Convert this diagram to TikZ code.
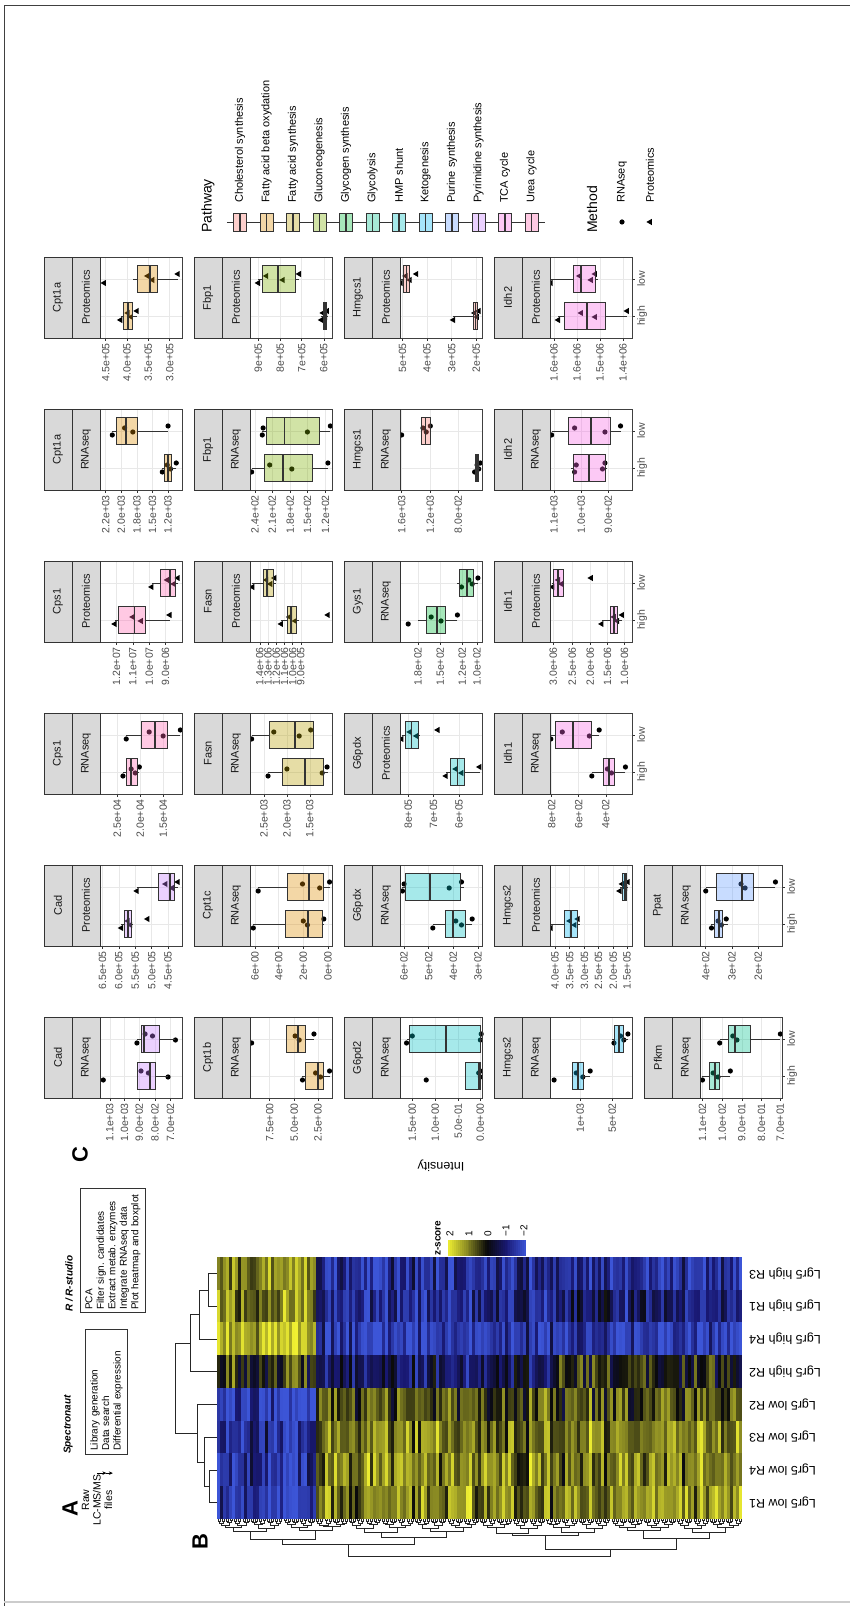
\documentclass[tikz,border=0pt]{standalone}
\usepackage{fontspec}
\setmainfont{Liberation Sans}
\usetikzlibrary{arrows.meta}
\usetikzlibrary{positioning}
\frenchspacing

% pathway colours (ggplot hues)
\definecolor{pw1}{HTML}{F8766D}
\definecolor{pw2}{HTML}{DE8C00}
\definecolor{pw3}{HTML}{B79F00}
\definecolor{pw4}{HTML}{7CAE00}
\definecolor{pw5}{HTML}{00BA38}
\definecolor{pw6}{HTML}{00C08B}
\definecolor{pw7}{HTML}{00BFC4}
\definecolor{pw8}{HTML}{00B4F0}
\definecolor{pw9}{HTML}{619CFF}
\definecolor{pw10}{HTML}{C77CFF}
\definecolor{pw11}{HTML}{F564E3}
\definecolor{pw12}{HTML}{FF64B0}

\tikzset{
  plab/.style={font=\fontsize{22}{22}\selectfont\bfseries, inner sep=0pt},
  flowtxt/.style={font=\fontsize{10.5}{11.5}\selectfont, inner sep=1pt},
  flowbox/.style={draw=black!80, line width=0.6pt, align=left, anchor=north west,
    font=\fontsize{10}{11.5}\selectfont, inner xsep=4pt, inner ysep=5pt},
  flowtitle/.style={font=\fontsize{10}{11}\selectfont\bfseries\itshape, anchor=south west, inner sep=1pt},
  flowarr/.style={-{Stealth[length=4pt,width=3.5pt]}, line width=0.6pt},
  hmlab/.style={font=\fontsize{12.5}{13}\selectfont, inner sep=1pt},
  dendro/.style={line width=0.35pt, black!85},
  gridmaj/.style={black!9, line width=0.5pt},
  axtick/.style={black!80, line width=0.5pt},
  ticklab/.style={font=\fontsize{10.5}{11}\selectfont, text=black!70, inner sep=0.5pt},
  stripbox/.style={draw=black!80, fill=black!15, line width=0.5pt, minimum width=81pt,
    minimum height=28pt, inner sep=0pt, font=\fontsize{11}{12}\selectfont, text=black!90},
  panelbd/.style={draw=black!75, line width=0.6pt},
  boxln/.style={draw=black!80, line width=0.7pt},
  legtitle/.style={font=\fontsize{14}{15}\selectfont, inner sep=0pt},
  legtext/.style={font=\fontsize{11}{12}\selectfont, inner sep=0pt}
}

% z-score colour scale
\newcommand\setzcolor[1]{%
  \pgfmathtruncatemacro\hr{(#1)<-1 ? 60-35*((#1)+2) : ((#1)<0 ? 25-15*((#1)+1) : ((#1)<1 ? 10+125*(#1) : 135+105*((#1)-1)))}%
  \pgfmathtruncatemacro\hg{(#1)<-1 ? 85-60*((#1)+2) : ((#1)<0 ? 25-15*((#1)+1) : ((#1)<1 ? 10+125*(#1) : 135+105*((#1)-1)))}%
  \pgfmathtruncatemacro\hb{(#1)<-1 ? 215-100*((#1)+2) : ((#1)<0 ? 115-105*((#1)+1) : ((#1)<1 ? 10+25*(#1) : 35+15*((#1)-1)))}%
  \definecolor{zc}{RGB}{\hr,\hg,\hb}}

\newcommand\mkdot[2]{\fill[black] (#1,#2) circle[radius=2.6pt];}
\newcommand\mktri[2]{\fill[black] (#1,{#2+3.6}) -- ({#1-3.1},{#2-1.8}) -- ({#1+3.1},{#2-1.8}) -- cycle;}

% one facet: row, col, gene, method, colour, ticks
\newcommand\facetbegin[6]{%
  \pgfmathsetmacro\fu{508+152*(#2-1)}%
  \pgfmathsetmacro\fv{182+150*(#1-1)}%
  \begin{scope}[shift={(\fu,-\fv)}]
  \def\fcol{#5}\def\fgene{#3}\def\fmeth{#4}\def\fid{#1#2}%
  \foreach \ff/\tl [count=\kk] in {#6}{%
    \draw[gridmaj] (0,82*\ff) -- (81,82*\ff);
    \draw[axtick] (-2.75,82*\ff) -- (0,82*\ff);
    \node[ticklab, anchor=east] (tk\fid-\kk) at (-4.5,82*\ff) {\tl};
  }%
  \draw[gridmaj] (22,0) -- (22,82) (59,0) -- (59,82);
}
\newcommand\facetend{%
  \draw[panelbd] (0,0) rectangle (81,82);
  \node[stripbox] (m\fid) at (40.5,96) {\fmeth};
  \node[stripbox] (g\fid) at (40.5,124) {\fgene};
  \end{scope}}
\newcommand\xlabs{%
  \draw[axtick] (22,0) -- (22,-2.75) (59,0) -- (59,-2.75);
  \node[ticklab, anchor=north] (xh\fid) at (22,-4.5) {high};
  \node[ticklab, anchor=north] (xl\fid) at (59,-4.5) {low};
}
% box: x, lower whisker, q1, median, q3, upper whisker, points, mark
\newcommand\boxgrp[8]{%
  \foreach \pp [count=\ii] in {#7}{%
    \pgfmathsetmacro\jx{{-4,3,-1,5,0,2}[\ii-1]}%
    \pgfmathsetmacro\px{#1+(\jx)}%
    \pgfmathsetmacro\py{82*\pp}%
    #8{\px}{\py}%
  }%
  \draw[boxln] (#1,82*#2) -- (#1,82*#3) (#1,82*#5) -- (#1,82*#6);
  \filldraw[boxln, fill=\fcol, fill opacity=.35] ({#1-13.8},82*#3) rectangle ({#1+13.8},82*#5);
  \draw[boxln, line width=1.8pt] ({#1-13.8},82*#4) -- ({#1+13.8},82*#4);
}

\begin{document}
\begin{tikzpicture}[x=1pt, y=1pt, rotate=90, transform shape]
\useasboundingbox (0,0) rectangle (1606,-850);
\draw[black!75, line width=0.8pt] (0,-4) -- (1601,-4) -- (1601,-851);
\draw[black!20, line width=2pt] (4,-4) -- (4,-851);

% ---- panel A ----
\node[plab] (labA) at (97,-70) {A};
\node[flowtxt, align=center] (raw) at (106,-97) {Raw\\LC-MS/MS\\files};
\node[flowbox, text width=117pt] (spec) at (151,-85) {Library generation\\Data search\\Differential expression};
\node[flowtitle] (spect) at (151,-74) {Spectronaut};
\node[flowbox, text width=118pt, inner xsep=3pt] (rstu) at (293,-80) {PCA\\Filter sign. candidates\\Extract metab. enzymes\\Integrate RNAseq data\\Plot heatmap and boxplot};
\node[flowtitle] (rstut) at (293,-74) {R / R-studio};
\draw[flowarr] (raw.east) -- (raw.east |- spec.west);
\draw[flowarr] (raw.east |- spec.east) -- (raw.east |- rstu.west);

% ---- panel B ----
\node[plab] (labB) at (64,-200) {B};
\pgfmathsetseed{2718}
\foreach \gi in {0,...,174}{
  \pgfmathsetmacro\va{217+3*\gi}
  \pgfmathsetmacro\gef{0.55*rand}
  \foreach \si/\za/\zb/\zc in {0/-1.6/0.95/1.05, 1/-1.5/1.0/0.9, 2/-1.4/0.95/0.95, 3/-1.7/0.55/0.5,
      4/0.3/-0.8/0.1, 5/1.6/-1.6/-1.6, 6/1.0/-1.3/-0.9, 7/1.1/-1.3/-1.4}{
    \pgfmathsetmacro\zz{(\gi<33 ? \za : (\gi<113 ? \zb : \zc)) + (\si<4 ? 1 : -1)*(\gef) + 0.6*rand}
    \pgfmathsetmacro\zz{max(-2,min(2,\zz))}
    \setzcolor{\zz}
    \fill[zc] ({87+32.75*\si},-\va) rectangle ({87.1+32.75*(\si+1)},{-\va-3.1});
  }
}
% sample dendrogram
\draw[dendro] (103.4,-217) -- (103.4,-209) -- (136.1,-209) -- (136.1,-217);
\draw[dendro] (119.75,-209) -- (119.75,-204) -- (168.9,-204) -- (168.9,-217);
\draw[dendro] (144.3,-204) -- (144.3,-197) -- (201.6,-197) -- (201.6,-217);
\draw[dendro] (299.9,-217) -- (299.9,-208) -- (332.6,-208) -- (332.6,-217);
\draw[dendro] (267.1,-217) -- (267.1,-199) -- (316.25,-199) -- (316.25,-208);
\draw[dendro] (234.4,-217) -- (234.4,-190) -- (291.7,-190) -- (291.7,-199);
\draw[dendro] (173,-197) -- (173,-175) -- (263,-175) -- (263,-190);
% gene dendrogram
\def\HH{{0,1.5,3,5,7.5,11,16,24,37,37}}
\foreach \kk in {1,...,8}{
  \pgfmathtruncatemacro\nn{2^(8-\kk)-1}
  \pgfmathtruncatemacro\km{\kk-1}
  \pgfmathtruncatemacro\kp{\kk+1}
  \foreach \jj in {0,...,\nn}{
    \pgfmathsetmacro\ca{217+2.05*2^\km*(2*\jj+0.5)}
    \pgfmathsetmacro\cb{217+2.05*2^\km*(2*\jj+1.5)}
    \pgfmathsetmacro\hN{\HH[\kk]+(\kk<8)*(\HH[\kp]-\HH[\kk])*0.6*mod(37*\jj+53*\kk,23)/23}
    \pgfmathsetmacro\hA{\HH[\km]+(\km>0)*(\HH[\kk]-\HH[\km])*0.6*mod(74*\jj+53*\km,23)/23}
    \pgfmathsetmacro\hB{\HH[\km]+(\km>0)*(\HH[\kk]-\HH[\km])*0.6*mod(74*\jj+37+53*\km,23)/23}
    \draw[dendro, line width=0.25pt] ({87-\hA},-\ca) -- ({87-\hN},-\ca) -- ({87-\hN},-\cb) -- ({87-\hB},-\cb);
  }
}
\foreach \tl [count=\ii] in {Lgr5 low R1, Lgr5 low R4, Lgr5 low R3, Lgr5 low R2,
    Lgr5 high R2, Lgr5 high R4, Lgr5 high R1, Lgr5 high R3}{
  \node[hmlab, rotate=90, anchor=east] (hl\ii) at ({87+32.75*(\ii-0.5)},-748) {\tl};
}
% colour key
\node[font=\fontsize{10}{11}\selectfont\bfseries, anchor=west, inner sep=0pt] (zt) at (350,-438) {z-score};
\foreach \ii in {0,...,39}{
  \pgfmathsetmacro\zz{2-4*(\ii+0.5)/40}
  \setzcolor{\zz}
  \fill[zc] (350,{-448-1.95*\ii}) rectangle (366,{-448-1.95*(\ii+1)-0.1});
}
\foreach \zl/\zv [count=\ii] in {2/450, 1/469, 0/488, −1/506, −2/524}{
  \node[font=\fontsize{10}{11}\selectfont, anchor=west, inner sep=0pt] (zl\ii) at (369,-\zv) {\zl};
}

% ---- panel C ----
\node[plab] (labC) at (451,-80) {C};
\node[font=\fontsize{12.5}{13}\selectfont, rotate=90] (ylab) at (440,-441) {Intensity};

\facetbegin{1}{1}{Cad}{RNAseq}{pw10}{0.88/1.1e+03, 0.70/1.0e+03, 0.52/9.0e+02, 0.33/8.0e+02, 0.14/7.0e+02}
\boxgrp{22}{0.17}{0.33}{0.39}{0.55}{0.55}{0.96,0.41,0.17,0.50}{\mkdot}
\boxgrp{59}{0.08}{0.28}{0.46}{0.50}{0.55}{0.55,0.36,0.08,0.45}{\mkdot}
\facetend
\facetbegin{1}{2}{Cad}{Proteomics}{pw10}{0.97/6.5e+05, 0.77/6.0e+05, 0.57/5.5e+05, 0.37/5.0e+05, 0.17/4.5e+05}
\boxgrp{22}{0.60}{0.62}{0.66}{0.70}{0.74}{0.74,0.66,0.63,0.42}{\mktri}
\boxgrp{59}{0.05}{0.09}{0.15}{0.29}{0.55}{0.55,0.20,0.12,0.05}{\mktri}
\facetend
\facetbegin{1}{3}{Cps1}{RNAseq}{pw12}{0.79/2.5e+04, 0.51/2.0e+04, 0.23/1.5e+04}
\boxgrp{22}{0.52}{0.55}{0.62}{0.68}{0.72}{0.72,0.62,0.57,0.52}{\mkdot}
\boxgrp{59}{0.02}{0.18}{0.33}{0.49}{0.68}{0.68,0.40,0.23,0.02}{\mkdot}
\facetend
\facetbegin{1}{4}{Cps1}{Proteomics}{pw12}{0.80/1.2e+07, 0.60/1.1e+07, 0.40/1.0e+07, 0.20/9.0e+06}
\boxgrp{22}{0.15}{0.45}{0.58}{0.78}{0.82}{0.82,0.60,0.50,0.15}{\mktri}
\boxgrp{59}{0.05}{0.08}{0.15}{0.26}{0.37}{0.37,0.18,0.10,0.05}{\mktri}
\facetend
\facetbegin{1}{5}{Cpt1a}{RNAseq}{pw2}{0.93/2.2e+03, 0.74/2.0e+03, 0.55/1.8e+03, 0.36/1.5e+03, 0.17/1.2e+03}
\boxgrp{22}{0.07}{0.13}{0.17}{0.22}{0.24}{0.24,0.18,0.14,0.07}{\mkdot}
\boxgrp{59}{0.17}{0.55}{0.68}{0.80}{0.85}{0.85,0.70,0.60,0.17}{\mkdot}
\facetend
\facetbegin{1}{6}{Cpt1a}{Proteomics}{pw2}{0.93/4.5e+05, 0.67/4.0e+05, 0.41/3.5e+05, 0.15/3.0e+05}
\boxgrp{22}{0.55}{0.60}{0.66}{0.72}{0.75}{0.75,0.66,0.62,0.55}{\mktri}
\boxgrp{59}{0.05}{0.30}{0.39}{0.54}{0.60}{0.95,0.42,0.36,0.05}{\mktri}
\facetend

\facetbegin{2}{1}{Cpt1b}{RNAseq}{pw2}{0.76/7.5e+00, 0.46/5.0e+00, 0.17/2.5e+00}
\boxgrp{22}{0.03}{0.10}{0.17}{0.32}{0.36}{0.36,0.20,0.14,0.03}{\mkdot}
\boxgrp{59}{0.22}{0.32}{0.41}{0.56}{0.56}{0.98,0.45,0.40,0.22}{\mkdot}
\facetend
\facetbegin{2}{2}{Cpt1c}{RNAseq}{pw2}{0.94/6e+00, 0.65/4e+00, 0.35/2e+00, 0.05/0e+00}
\boxgrp{22}{0.10}{0.12}{0.29}{0.57}{0.96}{0.96,0.35,0.30,0.10}{\mkdot}
\boxgrp{59}{0.03}{0.10}{0.28}{0.55}{0.90}{0.90,0.36,0.15,0.03}{\mkdot}
\facetend
\facetbegin{2}{3}{Fasn}{RNAseq}{pw3}{0.83/2.5e+03, 0.55/2.0e+03, 0.27/1.5e+03}
\boxgrp{22}{0.05}{0.10}{0.33}{0.61}{0.78}{0.78,0.55,0.12,0.06}{\mkdot}
\boxgrp{59}{0.23}{0.23}{0.45}{0.76}{0.98}{0.98,0.71,0.40,0.26}{\mkdot}
\facetend
\facetbegin{2}{4}{Fasn}{Proteomics}{pw3}{0.88/1.4e+06, 0.78/1.3e+06, 0.68/1.2e+06, 0.58/1.1e+06, 0.48/1.0e+06, 0.38/9.0e+05}
\boxgrp{22}{0.40}{0.44}{0.50}{0.55}{0.62}{0.62,0.52,0.45,0.05}{\mktri}
\boxgrp{59}{0.68}{0.72}{0.79}{0.84}{0.97}{0.97,0.80,0.75,0.70}{\mktri}
\facetend
\facetbegin{2}{5}{Fbp1}{RNAseq}{pw4}{0.94/2.4e+02, 0.73/2.1e+02, 0.51/1.8e+02, 0.30/1.5e+02, 0.08/1.2e+02}
\boxgrp{22}{0.05}{0.24}{0.60}{0.82}{0.98}{0.98,0.76,0.49,0.05}{\mkdot}
\boxgrp{59}{0.02}{0.16}{0.58}{0.80}{0.85}{0.85,0.84,0.30,0.02}{\mkdot}
\facetend
\facetbegin{2}{6}{Fbp1}{Proteomics}{pw4}{0.90/9e+05, 0.63/8e+05, 0.37/7e+05, 0.10/6e+05}
\boxgrp{22}{0.05}{0.07}{0.09}{0.11}{0.13}{0.13,0.11,0.08,0.06}{\mktri}
\boxgrp{59}{0.40}{0.45}{0.66}{0.85}{0.90}{0.90,0.80,0.60,0.40}{\mktri}
\facetend

\facetbegin{3}{1}{G6pd2}{RNAseq}{pw7}{0.85/1.5e+00, 0.57/1.0e+00, 0.29/5.0e-01, 0.02/0.0e+00}
\boxgrp{22}{0.02}{0.02}{0.04}{0.20}{0.20}{0.68,0.04,0.02,0.02}{\mkdot}
\boxgrp{59}{0.00}{0.02}{0.44}{0.88}{0.92}{0.92,0.85,0.02,0.01}{\mkdot}
\facetend
\facetbegin{3}{2}{G6pdx}{RNAseq}{pw7}{0.95/6e+02, 0.65/5e+02, 0.35/4e+02, 0.05/3e+02}
\boxgrp{22}{0.12}{0.20}{0.35}{0.45}{0.60}{0.60,0.32,0.25,0.12}{\mkdot}
\boxgrp{59}{0.22}{0.27}{0.63}{0.93}{0.97}{0.97,0.95,0.40,0.25}{\mkdot}
\facetend
\facetbegin{3}{3}{G6pdx}{Proteomics}{pw7}{0.90/8e+05, 0.59/7e+05, 0.28/6e+05}
\boxgrp{22}{0.03}{0.22}{0.30}{0.38}{0.44}{0.44,0.32,0.25,0.03}{\mktri}
\boxgrp{59}{0.76}{0.78}{0.86}{0.94}{0.98}{0.98,0.88,0.80,0.54}{\mktri}
\facetend
\facetbegin{3}{4}{Gys1}{RNAseq}{pw5}{0.78/1.8e+02, 0.51/1.5e+02, 0.24/1.2e+02, 0.06/1.0e+02}
\boxgrp{22}{0.30}{0.45}{0.55}{0.68}{0.78}{0.90,0.62,0.50,0.30}{\mkdot}
\boxgrp{59}{0.05}{0.10}{0.18}{0.28}{0.30}{0.25,0.16,0.12,0.05}{\mkdot}
\facetend
\facetbegin{3}{5}{Hmgcs1}{RNAseq}{pw1}{0.98/1.6e+03, 0.63/1.2e+03, 0.29/8.0e+02}
\boxgrp{22}{0.02}{0.04}{0.06}{0.08}{0.09}{0.09,0.06,0.04,0.02}{\mkdot}
\boxgrp{59}{0.62}{0.63}{0.69}{0.74}{0.74}{0.98,0.72,0.68,0.63}{\mkdot}
\facetend
\facetbegin{3}{6}{Hmgcs1}{Proteomics}{pw1}{0.97/5e+05, 0.67/4e+05, 0.37/3e+05, 0.07/2e+05}
\boxgrp{22}{0.04}{0.06}{0.08}{0.11}{0.35}{0.35,0.09,0.06,0.04}{\mktri}
\boxgrp{59}{0.86}{0.88}{0.92}{0.96}{0.99}{0.99,0.93,0.88,0.80}{\mktri}
\facetend

\facetbegin{4}{1}{Hmgcs2}{RNAseq}{pw8}{0.63/1e+03, 0.24/5e+02}
\boxgrp{22}{0.51}{0.59}{0.66}{0.73}{0.73}{0.95,0.68,0.60,0.51}{\mkdot}
\boxgrp{59}{0.05}{0.10}{0.16}{0.22}{0.24}{0.22,0.14,0.10,0.05}{\mkdot}
\facetend
\facetbegin{4}{2}{Hmgcs2}{Proteomics}{pw8}{0.94/4.0e+05, 0.76/3.5e+05, 0.58/3.0e+05, 0.41/2.5e+05, 0.23/2.0e+05, 0.06/1.5e+05}
\boxgrp{22}{0.64}{0.67}{0.74}{0.82}{0.99}{0.99,0.76,0.70,0.66}{\mktri}
\boxgrp{59}{0.05}{0.07}{0.09}{0.12}{0.15}{0.15,0.12,0.08,0.05}{\mktri}
\facetend
\facetbegin{4}{3}{Idh1}{RNAseq}{pw11}{0.98/8e+02, 0.65/6e+02, 0.32/4e+02}
\boxgrp{22}{0.08}{0.21}{0.28}{0.35}{0.49}{0.49,0.30,0.25,0.08}{\mkdot}
\boxgrp{59}{0.40}{0.49}{0.72}{0.94}{0.99}{0.99,0.85,0.52,0.40}{\mkdot}
\xlabs
\facetend
\facetbegin{4}{4}{Idh1}{Proteomics}{pw11}{0.96/3.0e+06, 0.73/2.5e+06, 0.51/2.0e+06, 0.30/1.5e+06, 0.09/1.0e+06}
\boxgrp{22}{0.12}{0.18}{0.22}{0.27}{0.37}{0.37,0.22,0.18,0.12}{\mktri}
\boxgrp{59}{0.84}{0.84}{0.90}{0.96}{0.97}{0.97,0.90,0.86,0.50}{\mktri}
\xlabs
\facetend
\facetbegin{4}{5}{Idh2}{RNAseq}{pw11}{0.95/1.1e+03, 0.62/1.0e+03, 0.29/9.0e+02}
\boxgrp{22}{0.30}{0.33}{0.52}{0.72}{0.74}{0.70,0.68,0.36,0.33}{\mkdot}
\boxgrp{59}{0.14}{0.27}{0.50}{0.78}{0.98}{0.98,0.70,0.33,0.14}{\mkdot}
\xlabs
\facetend
\facetbegin{4}{6}{Idh2}{Proteomics}{pw11}{0.95/1.6e+06, 0.67/1.6e+06, 0.39/1.5e+06, 0.11/1.4e+06}
\boxgrp{22}{0.06}{0.33}{0.55}{0.82}{0.90}{0.90,0.62,0.45,0.06}{\mktri}
\boxgrp{59}{0.42}{0.45}{0.62}{0.72}{0.99}{0.99,0.64,0.50,0.45}{\mktri}
\xlabs
\facetend

\facetbegin{5}{1}{Pfkm}{RNAseq}{pw6}{0.97/1.1e+02, 0.73/1.0e+02, 0.49/9.0e+01, 0.25/8.0e+01, 0.02/7.0e+01}
\boxgrp{22}{0.63}{0.76}{0.82}{0.88}{0.97}{0.97,0.84,0.78,0.63}{\mkdot}
\boxgrp{59}{0.02}{0.39}{0.57}{0.66}{0.76}{0.76,0.60,0.55,0.02}{\mkdot}
\xlabs
\facetend
\facetbegin{5}{2}{Ppat}{RNAseq}{pw9}{0.93/4e+02, 0.61/3e+02, 0.29/2e+02}
\boxgrp{22}{0.66}{0.73}{0.77}{0.82}{0.86}{0.86,0.78,0.74,0.68}{\mkdot}
\boxgrp{59}{0.08}{0.35}{0.49}{0.80}{0.93}{0.93,0.50,0.45,0.08}{\mkdot}
\xlabs
\facetend

% ---- legends ----
\node[legtitle, anchor=west] (pwt) at (1373,-208) {Pathway};
\foreach \cc/\tl [count=\ii] in {pw1/Cholesterol synthesis, pw2/Fatty acid beta oxydation,
    pw3/Fatty acid synthesis, pw4/Gluconeogenesis, pw5/Glycogen synthesis, pw6/Glycolysis,
    pw7/HMP shunt, pw8/Ketogenesis, pw9/Purine synthesis, pw10/Pyrimidine synthesis,
    pw11/TCA cycle, pw12/Urea cycle}{
  \pgfmathsetmacro\lv{240+26.5*(\ii-1)}
  \draw[boxln] (1384,{13.25-\lv}) -- (1384,{6.5-\lv}) (1384,{-6.5-\lv}) -- (1384,{-13.25-\lv});
  \filldraw[boxln, fill=\cc, fill opacity=.35] (1375,{6.5-\lv}) rectangle (1393,{-6.5-\lv});
  \draw[boxln, line width=1.6pt] (1375,-\lv) -- (1393,-\lv);
  \node[legtext, anchor=west] (lg\ii) at (1403,-\lv) {\tl};
}
\node[legtitle, anchor=west] (mtt) at (1373,-592) {Method};
\mkdot{1384}{-622}
\node[legtext, anchor=west] (mt1) at (1403,-622) {RNAseq};
\mktri{1384}{-650}
\node[legtext, anchor=west] (mt2) at (1403,-650) {Proteomics};
\end{tikzpicture}
\end{document}
